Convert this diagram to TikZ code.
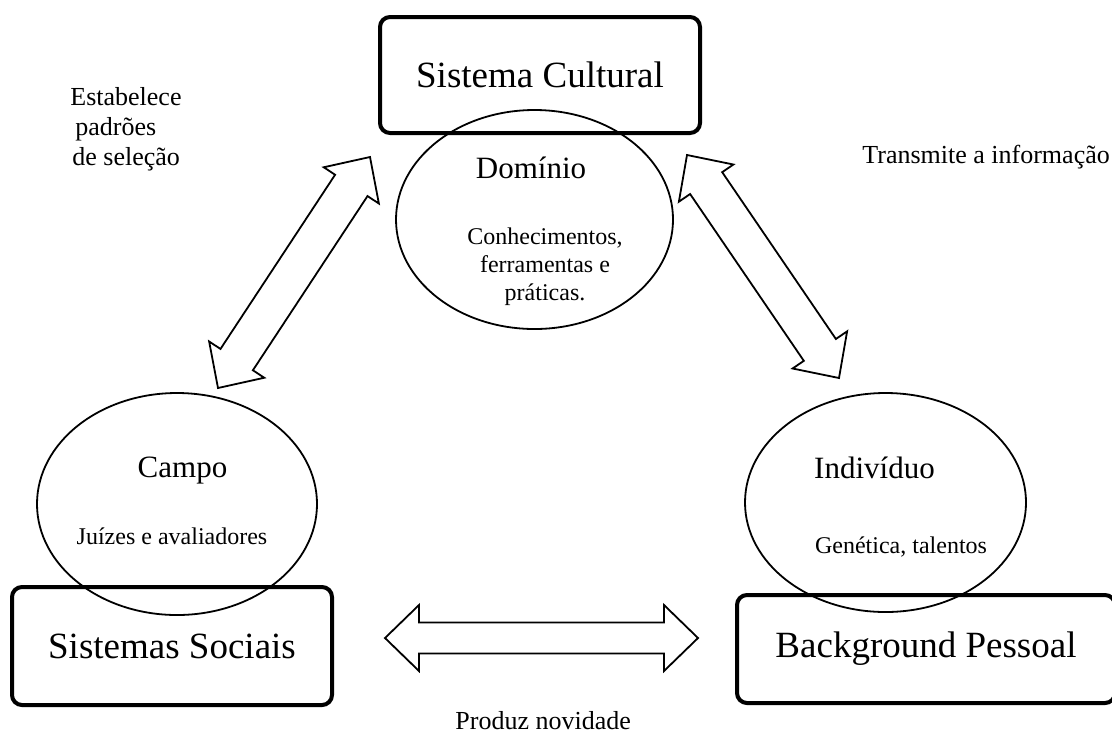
\documentclass[tikz,border=0pt]{standalone}
\usepackage{fontspec}
\setmainfont{Liberation Serif}
\usetikzlibrary{calc,shapes.geometric}

% outlined double block arrow between two tips, #3 = half shaft width
\newcommand{\blockarrow}[3]{%
  \coordinate (h1) at ($(#1)!17pt!(#2)$);
  \coordinate (h2) at ($(#2)!17pt!(#1)$);
  \draw[blockarr] (#1) -- ($(h1)!16.5pt!90:(#2)$) -- ($(h1)!#3!90:(#2)$)
    -- ($(h2)!#3!-90:(#1)$) -- ($(h2)!16.5pt!-90:(#1)$) -- (#2)
    -- ($(h2)!16.5pt!90:(#1)$) -- ($(h2)!#3!90:(#1)$)
    -- ($(h1)!#3!-90:(#2)$) -- ($(h1)!16.5pt!-90:(#2)$) -- cycle;
}

\begin{document}
\begin{tikzpicture}[x=0.5pt, y=-0.5pt,
  sysbox/.style={draw, line width=2pt, rounded corners=5pt, minimum width=160pt,
    minimum height=58pt, inner sep=0pt, font=\fontsize{18.5}{22}\selectfont},
  area/.style={draw, ellipse, line width=0.9pt, inner sep=0pt},
  ttl/.style={font=\fontsize{15.5}{18}\selectfont, anchor=base, inner sep=0pt},
  desc/.style={font=\fontsize{12}{14}\selectfont, inner sep=0pt},
  note/.style={font=\fontsize{13}{15}\selectfont, inner sep=0pt},
  blockarr/.style={draw, line width=0.9pt, line join=miter, fill=white}]
\useasboundingbox (0,0) rectangle (1112,735);

\node[sysbox] (cult) at (540,75) {Sistema Cultural};
\node[sysbox, minimum height=59pt] (soc) at (172,646) {Sistemas Sociais};
\node[sysbox, minimum width=189pt, minimum height=54pt] (pess) at (926,649) {Background Pessoal};

\node[area, minimum width=138.5pt, minimum height=109.5pt] (dom) at (534.5,219.5) {};
\node[area, minimum width=140pt, minimum height=111pt] (campo) at (177,504) {};
\node[area, minimum width=140.5pt, minimum height=109.5pt] (indiv) at (885.5,502.5) {};

\node[ttl] (domt) at (531,178) {Domínio};
\node[desc, align=center] (domd) at (545,267) {Conhecimentos,\\ferramentas e\\práticas.};
\node[ttl] (campot) at (182.5,477) {Campo};
\node[desc, anchor=base] (campod) at (172,544) {Juízes e avaliadores};
\node[ttl] (indivt) at (874.5,478) {Indivíduo};
\node[desc, anchor=base] (indivd) at (901,553) {Genética, talentos};

\node[note, align=left, anchor=west] (estab) at (70,129) {Estabelece\\\hspace{2.5pt}padrões\\\hspace{1pt}de seleção};
\node[note, anchor=base west] (transm) at (862,163) {Transmite a informação};
\node[note, anchor=base west] (produz) at (455,729) {Produz novidade};

\coordinate (lt) at (370,157); \coordinate (lb) at (218,388);
\coordinate (rt) at (687,155); \coordinate (rb) at (839,378);
\coordinate (hl) at (385,638); \coordinate (hr) at (698,638);
\blockarrow{lt}{lb}{9.7pt}
\blockarrow{rt}{rb}{9.7pt}
\blockarrow{hl}{hr}{7.75pt}
\end{tikzpicture}
\end{document}
